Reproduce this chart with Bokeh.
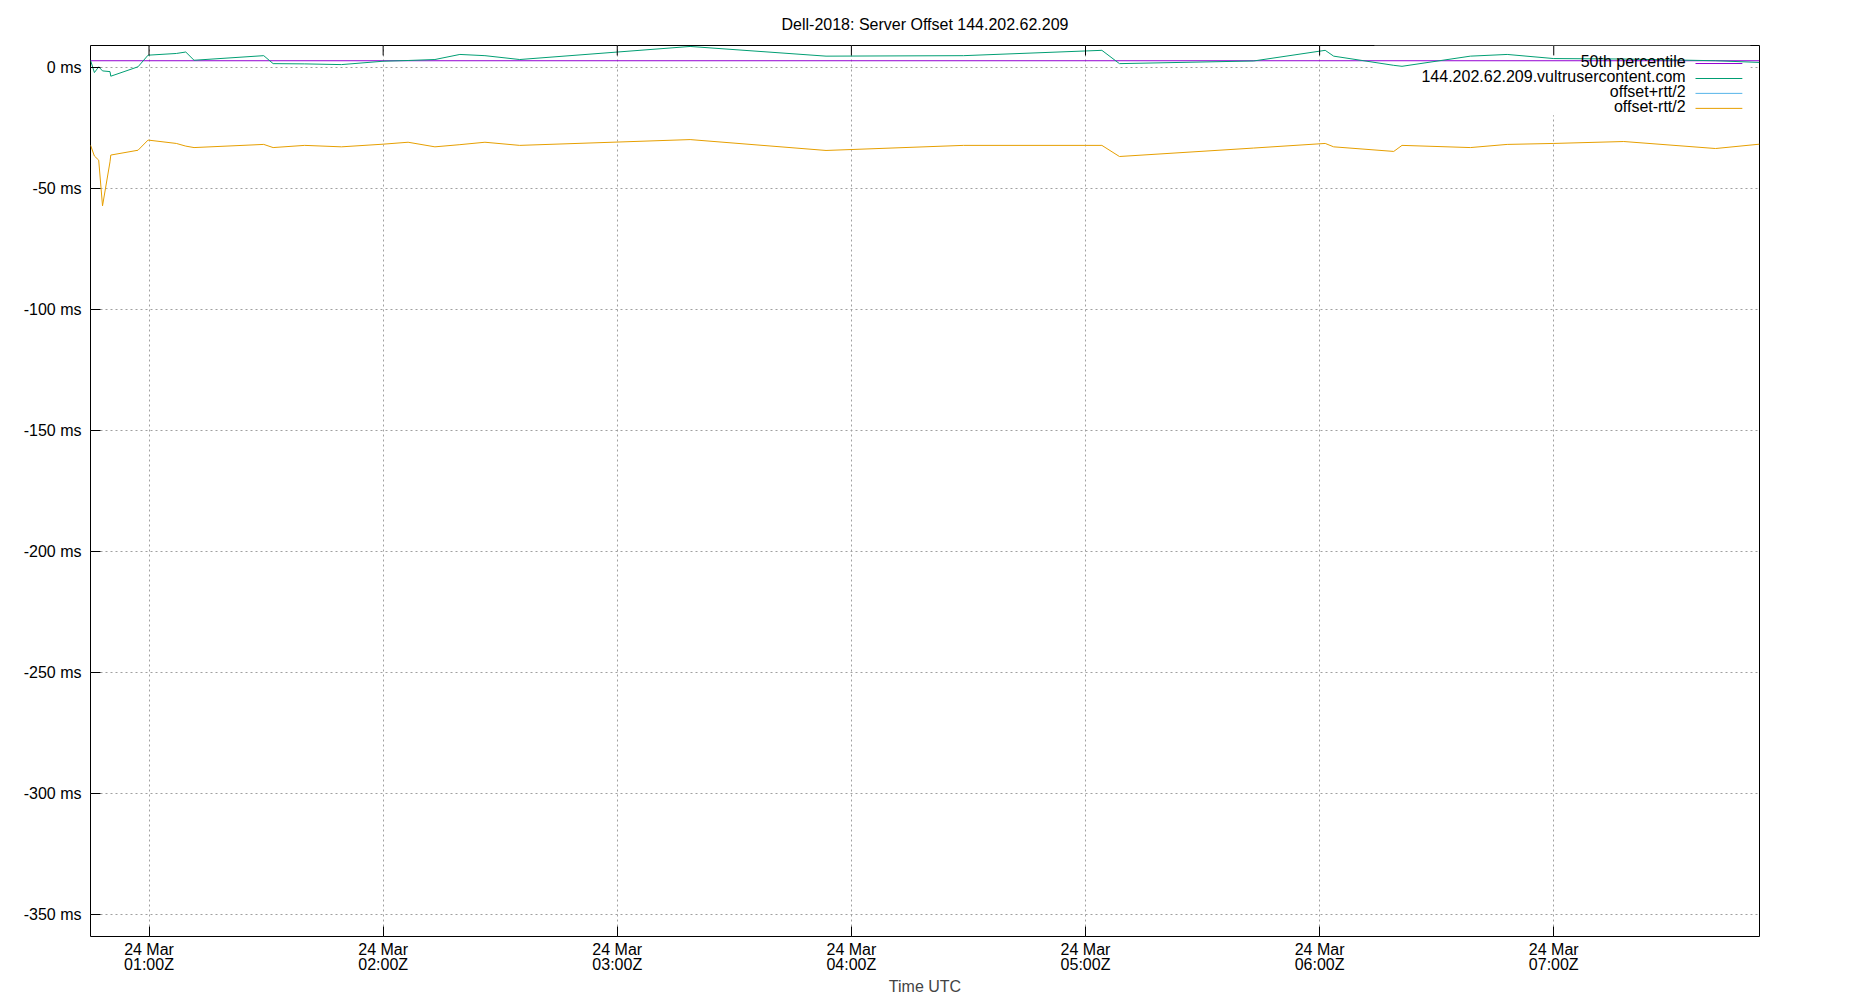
import pandas as pd
from bokeh.plotting import figure
from bokeh.models import (Range1d, FixedTicker, DatetimeTickFormatter, PrintfTickFormatter,
                          Label, Arrow, BoxAnnotation)
from bokeh.embed import file_html
from bokeh.resources import INLINE

# samples taken on 24 Mar (UTC)
sample_times = ["00:45:00", "00:46:00", "00:47:06", "00:48:05", "00:50:00", "00:50:12",
                "00:57:11", "00:59:45", "01:07:00", "01:09:25", "01:11:32", "01:29:24",
                "01:31:48", "01:39:54", "01:49:19", "02:00:00", "02:06:24", "02:13:16",
                "02:19:40", "02:26:05", "02:35:00", "03:18:40", "03:53:30", "04:28:44",
                "05:04:12", "05:08:42", "05:43:05", "06:01:26", "06:03:36", "06:19:00",
                "06:21:07", "06:38:38", "06:48:04", "07:00:00", "07:17:57", "07:41:28",
                "07:52:44"]
offset_ms = [3.0, -2.1, 0.3, -1.4, -1.7, -3.6, 0.3, 5.1, 5.8, 6.4, 3.0, 4.9,
             1.6, 1.5, 1.2, 2.6, 2.9, 3.3, 5.4, 4.9, 3.3, 8.7, 4.7, 4.9,
             7.1, 1.6, 2.7, 7.1, 4.7, 0.9, 0.5, 4.7, 5.4, 3.7, 3.5, 2.8, 2.1]
offset_plus_ms = [38.1, 32.4, 38.9, 54.4, 35.6, 29.0, 34.8, 40.2, 43.0, 45.3, 39.1, 41.6,
                  36.3, 35.2, 35.2, 36.9, 36.7, 39.4, 42.7, 40.7, 38.8, 47.2, 43.7, 42.0,
                  46.4, 40.0, 38.7, 45.6, 42.2, 36.5, 33.2, 42.5, 42.6, 38.8, 37.6, 39.1, 35.9]
offset_minus_ms = [-32.1, -36.6, -38.3, -57.2, -39.0, -36.2, -34.2, -30.0, -31.4, -32.5, -33.1, -31.8,
                   -33.1, -32.2, -32.8, -31.7, -30.9, -32.8, -31.9, -30.9, -32.2, -29.8, -34.3, -32.2,
                   -32.2, -36.8, -33.3, -31.4, -32.8, -34.7, -32.2, -33.1, -31.8, -31.4, -30.6, -33.5, -31.7]
p50_ms = 2.8

tick_hours = ["01:00", "02:00", "03:00", "04:00", "05:00", "06:00", "07:00"]
y_ticks = [-350, -300, -250, -200, -150, -100, -50, 0]
y_bottom, y_top = -359.3, 9.1

legend_labels = ["50th percentile", "144.202.62.209.vultrusercontent.com",
                 "offset+rtt/2", "offset-rtt/2"]
colors = ["#9400d3", "#009e73", "#56b4e9", "#e69f00"]

FONT = "Liberation Sans"
day = "2024-03-24 "


def ms(ts):
    return pd.Timestamp(ts).value / 1e6


x = pd.to_datetime([day + t for t in sample_times])
tick_ms = [ms(day + h) for h in tick_hours]

p = figure(x_axis_type="datetime", frame_width=1669, frame_height=891,
           min_border_left=90, min_border_right=80, min_border_top=45, min_border_bottom=50,
           x_range=Range1d(ms(x[0]), ms(x[-1])), y_range=Range1d(y_bottom, y_top),
           output_backend="svg", toolbar_location=None,
           title="Dell-2018: Server Offset 144.202.62.209")

p.title.align = "center"
p.title.text_font = FONT
p.title.text_font_size = "16px"
p.title.text_font_style = "normal"
p.title.text_color = "black"
p.title.text_line_height = 1.0
p.title.standoff = 26

p.outline_line_color = "black"
p.outline_line_alpha = 1
p.outline_line_width = 1

fmt = "%d %b\n%H:%MZ"
xa = p.xaxis[0]
xa.ticker = FixedTicker(ticks=tick_ms)
xa.formatter = DatetimeTickFormatter(hours=fmt, hourmin=fmt, minutes=fmt, minsec=fmt,
                                     days=fmt, context=None)
xa.axis_label = "Time UTC"
xa.axis_label_text_font = FONT
xa.axis_label_text_font_size = "16px"
xa.axis_label_text_font_style = "normal"
xa.axis_label_standoff = 2
xa.major_label_text_line_height = 0.9

ya = p.yaxis[0]
ya.ticker = FixedTicker(ticks=y_ticks)
ya.formatter = PrintfTickFormatter(format="%d ms")

for ax in (xa, ya):
    ax.axis_line_color = None
    ax.major_tick_in = 10
    ax.major_tick_out = 0
    ax.major_tick_line_color = "black"
    ax.minor_tick_line_color = None
    ax.major_label_text_font = FONT
    ax.major_label_text_font_size = "16px"
    ax.major_label_text_color = "black"
xa.major_label_standoff = 4
ya.major_label_standoff = 9

p.grid.grid_line_color = "#a0a0a0"
p.grid.grid_line_dash = "2 3"
p.grid.grid_line_width = 1

# key box hides the grid behind it
key_box = BoxAnnotation(left=ms(day + "06:14:02"), right=ms(day + "07:50:24"),
                        bottom=-19.7, top=y_top, fill_color="white", fill_alpha=1,
                        line_color=None, level="underlay")
p.add_layout(key_box)

p.line([x[0], x[-1]], [p50_ms, p50_ms], line_color=colors[0], line_width=1)
p.line(x, offset_ms, line_color=colors[1], line_width=1)
p.line(x, offset_plus_ms, line_color=colors[2], line_width=1)
p.line(x, offset_minus_ms, line_color=colors[3], line_width=1)

# mirrored x ticks along the top border
for t in tick_ms:
    p.add_layout(Arrow(x_start=t, y_start=y_top, x_end=t, y_end=y_top - 4.1,
                       start=None, end=None, line_color="black", line_width=1))

# gnuplot style key: text right-aligned, sample line to the right
key_rows = [1.65, -4.55, -10.7, -16.9]
for lab, col, yy in zip(legend_labels, colors, key_rows):
    p.add_layout(Label(x=ms(day + "07:33:48"), y=yy + 0.7, text=lab, text_align="right",
                       text_baseline="middle", text_font=FONT, text_font_size="16px",
                       text_color="black"))
    p.add_layout(Arrow(x_start=ms(day + "07:36:20"), y_start=yy, x_end=ms(day + "07:48:20"),
                       y_end=yy, start=None, end=None, line_color=col, line_width=1))

open("out.html", "w").write(file_html(p, INLINE))
